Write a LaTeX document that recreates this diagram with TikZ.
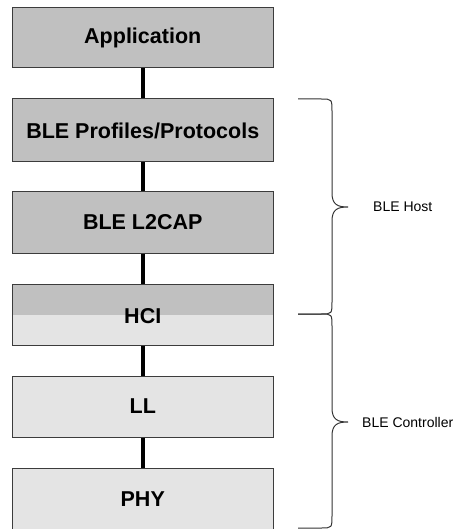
\documentclass[tikz,border=0pt]{standalone}
\usepackage{fontspec}
\setmainfont{Liberation Sans}
\definecolor{darkfill}{HTML}{C0C0C0}
\definecolor{lightfill}{HTML}{E4E4E4}
\definecolor{edge}{HTML}{3C3C3C}
\definecolor{bracecol}{HTML}{333333}
\begin{document}
\begin{tikzpicture}[x=1pt,y=-1pt,
  layer/.style={draw=edge,line width=1pt,minimum width=260.5pt,anchor=center,
    font=\fontsize{21.5}{24}\selectfont\bfseries,inner sep=0pt},
  darklayer/.style={layer,fill=darkfill},
  lightlayer/.style={layer,fill=lightfill},
  link/.style={line width=4pt,black},
  bracepath/.style={draw=bracecol,line width=1pt},
  bracelabel/.style={anchor=west,font=\fontsize{14}{16}\selectfont,inner sep=0pt}]
\useasboundingbox (0,0) rectangle (457,529);
\node[darklayer,minimum height=60pt] (app) at (142.75,38) {Application};
\node[darklayer,minimum height=63pt] (prof) at (142.75,130.5) {BLE Profiles/Protocols};
\node[darklayer,minimum height=61pt] (l2cap) at (142.75,222.5) {BLE L2CAP};
\node[lightlayer,minimum height=61pt,
  path picture={\fill[darkfill] (path picture bounding box.north west) rectangle (path picture bounding box.east);}]
  (hci) at (142.75,314.5) {};
\node[font=\fontsize{21.5}{24}\selectfont\bfseries,inner sep=0pt] (hcitext) at (142.75,316) {HCI};
\node[lightlayer,minimum height=61pt] (ll) at (142.75,406.5) {LL};
\node[lightlayer,minimum height=63pt] (phy) at (142.75,499.5) {PHY};
\draw[link] (app.south) -- (prof.north);
\draw[link] (prof.south) -- (l2cap.north);
\draw[link] (l2cap.south) -- (hci.north);
\draw[link] (hci.south) -- (ll.north);
\draw[link] (ll.south) -- (phy.north);
% Host brace
\coordinate (h1) at (298,99);
\coordinate (htip) at (348,207);
\coordinate (h2) at (298,314);
\draw[bracepath] (h1) -- (321,99) .. controls (332,99) .. (332,112)
  -- (332,193) .. controls (332,205) and (338,207) .. (htip)
  .. controls (338,207) and (332,209) .. (332,221)
  -- (332,301) .. controls (332,314) .. (321,314) -- (h2);
\node[bracelabel] (host) at (373,207) {BLE Host};
% Controller brace
\coordinate (c1) at (298,314);
\coordinate (ctip) at (348,422);
\coordinate (c2) at (298,528);
\draw[bracepath] (c1) -- (321,314) .. controls (332,314) .. (332,327)
  -- (332,408) .. controls (332,420) and (338,422) .. (ctip)
  .. controls (338,422) and (332,424) .. (332,436)
  -- (332,515) .. controls (332,528) .. (321,528) -- (c2);
\node[bracelabel] (ctrl) at (362,422) {BLE Controller};
\end{tikzpicture}
\end{document}
